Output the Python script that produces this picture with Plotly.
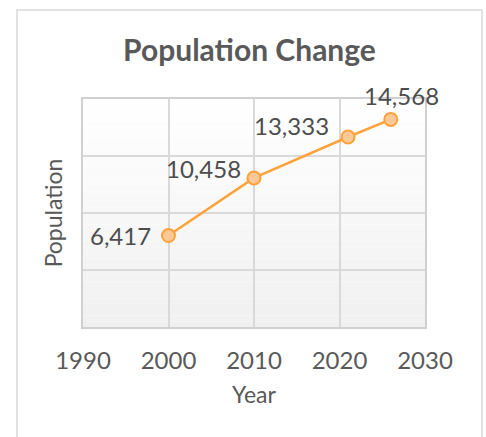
import plotly.graph_objects as go

years = [2000, 2010, 2021, 2026]
population = [6417, 10458, 13333, 14568]
labels = ["6,417", "10,458", "13,333", "14,568"]
# label placement (anchor, x shift px, y shift px)
label_anchor = ["right", "right", "right", "center"]
label_dx = [-16, -11, -17, 11]
label_dy = [0, 9, 12, 24]

W, H = 486, 437
L, R, T, B = 83, 61, 99, 110
pw, ph = W - L - R, H - T - B

def px_x(p):
    return (p - L) / pw

def px_y(p):
    return 1 - (p - T) / ph

fig = go.Figure()
fig.add_trace(go.Scatter(
    x=years, y=population, mode="lines+markers",
    line=dict(color="#FFA23A", width=2.5),
    marker=dict(size=13, color="#FFC896", line=dict(color="#FFA23A", width=2)),
    cliponaxis=False, showlegend=False, hoverinfo="x+y",
))

for x, y, t, a, dx, dy in zip(years, population, labels, label_anchor, label_dx, label_dy):
    fig.add_annotation(x=x, y=y, text=t, showarrow=False, xanchor=a, yanchor="middle",
                       xshift=dx, yshift=dy,
                       font=dict(family="Lato", size=24, color="#4D4D4D"))

shapes = []
n = 40
for i in range(n):
    g = int(round(255 - (255 - 240) * (i + 0.5) / n))
    shapes.append(dict(type="rect", xref="x domain", yref="y domain",
                       x0=0, x1=1, y0=1 - (i + 1) / n, y1=1 - i / n,
                       fillcolor=f"rgb({g},{g},{g})", line=dict(width=0),
                       layer="below"))
shapes.append(dict(type="rect", xref="paper", yref="paper",
                   x0=px_x(17), x1=px_x(482), y0=px_y(445), y1=px_y(10),
                   line=dict(color="#D9D9D9", width=1.5), fillcolor="rgba(0,0,0,0)"))

fig.update_layout(
    width=W, height=H,
    margin=dict(l=L, r=R, t=T, b=B),
    paper_bgcolor="white", plot_bgcolor="white",
    shapes=shapes,
    title=dict(text="<b>Population Change</b>", x=px_x(249.5), xref="paper",
               y=1 - 50 / H, yref="container", xanchor="center", yanchor="middle",
               font=dict(family="Lato", size=30, color="#595959")),
    font=dict(family="Lato", color="#595959"),
)
fig.update_xaxes(range=[1990, 2030], dtick=10, tick0=1990,
                 showgrid=True, gridcolor="#D9D9D9", gridwidth=1.5,
                 showline=True, linecolor="#D0D0D0", linewidth=1.5, mirror=True,
                 layer="below traces",
                 ticks="", ticklabelstandoff=11,
                 tickfont=dict(family="Lato", size=24, color="#595959"),
                 title=dict(text="Year", font=dict(family="Lato", size=23, color="#595959"),
                            standoff=14),
                 zeroline=False)
fig.update_yaxes(range=[0, 16000], dtick=4000, showticklabels=False,
                 showgrid=True, gridcolor="#D9D9D9", gridwidth=1.5,
                 showline=True, linecolor="#D0D0D0", linewidth=1.5, mirror=True,
                 layer="below traces",
                 ticks="", zeroline=False,
                 title=dict(text="Population", font=dict(family="Lato", size=23, color="#595959"),
                            standoff=12))

fig.write_html("out.html")
